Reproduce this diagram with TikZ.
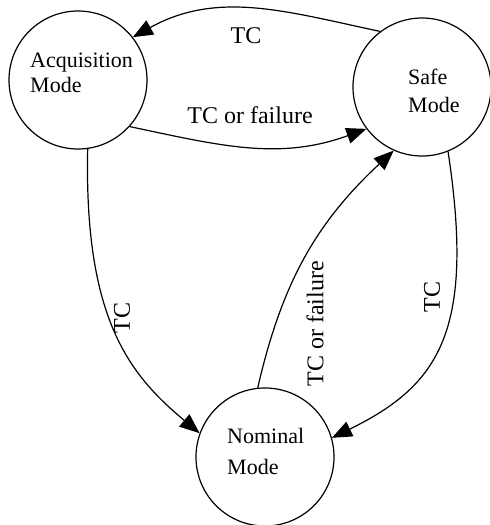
\documentclass[tikz,border=0pt]{standalone}
\usepackage{fontspec}
\setmainfont{Liberation Serif}
\usetikzlibrary{arrows.meta}
\begin{document}
\begin{tikzpicture}[x=1pt,y=-1pt,
  mode/.style={draw, circle, line width=1.2pt, minimum size=138pt, inner sep=0pt},
  modetext/.style={font=\fontsize{22}{27}\selectfont, inner sep=0pt, anchor=base west},
  lbl/.style={font=\fontsize{24}{28}\selectfont, inner sep=0pt},
  edge/.style={line width=1.2pt, -{Triangle[length=20pt,width=16pt]}}]
\useasboundingbox (0,0) rectangle (490,525);
\node[mode] (A) at (78,80) {};
\node[mode] (S) at (422,87) {};
\node[mode] (N) at (265,457) {};
\node[modetext] (At1) at (30,67) {Acquisition};
\node[modetext] (At2) at (30,92) {Mode};
\node[modetext] (St1) at (408,84) {Safe};
\node[modetext] (St2) at (408,112) {Mode};
\node[modetext] (Nt1) at (227,443) {Nominal};
\node[modetext] (Nt2) at (227,474) {Mode};
\draw[edge] (S.127) to[out=168,in=29] (A.38);
\draw[edge] (A.-42) to[out=-12,in=200] (S.-143);
\draw[edge] (N.96) to[out=77,in=223] (S.-114);
\draw[edge] (S.-68) .. controls (475,330) and (440,385) .. (N.16);
\draw[edge] (A.-82) .. controls (84,320) and (130,375) .. (N.160);
\node[lbl, anchor=base] (l1) at (246,43) {TC};
\node[lbl, anchor=base] (l2) at (250,123) {TC or failure};
\node[lbl, rotate=90] (l3) at (315,324) {TC or failure};
\node[lbl, rotate=90] (l4) at (432,297) {TC};
\node[lbl, rotate=90] (l5) at (122,318) {TC};
\end{tikzpicture}
\end{document}
